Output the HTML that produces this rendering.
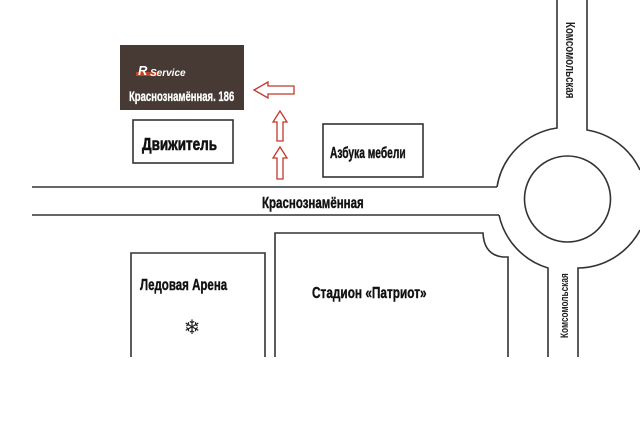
<!DOCTYPE html>
<html><head><meta charset="utf-8"><style>
body{margin:0;background:#fff;}
svg text{font-family:"Liberation Sans","DejaVu Sans",sans-serif;font-weight:bold;}
</style></head><body>
<svg width="640" height="435" viewBox="0 0 640 435" xmlns="http://www.w3.org/2000/svg">
<g fill="none" stroke="#333" stroke-width="1.6">
<path d="M32 187 H497"/>
<path d="M32 215 H499"/>
<path d="M557 0 V128 A71 71 0 0 0 497 187"/>
<path d="M587 0 V130 A71 71 0 0 1 640 170"/>
<path d="M499 215 A71 71 0 0 0 548 268 V357"/>
<path d="M578 357 V268 A71 71 0 0 0 640 230"/>
<circle cx="567.5" cy="199" r="43"/>
<path d="M275 357 V233 H483 Q484 255 503 257 H508 V357"/>
<path d="M131 357 V253 H265 V357"/>
<rect x="133" y="120" width="100" height="43"/>
<rect x="323" y="124" width="100" height="53"/>
</g>
<rect x="120" y="45" width="124" height="65" fill="#473a35"/>
<rect x="136" y="72" width="22" height="4" fill="#c8401e"/>
<text x="138" y="75" fill="#fff" font-size="13" font-style="italic">R</text>
<text x="150" y="76" fill="#fff" font-size="10" font-style="italic">Service</text>
<text x="129" y="101" fill="#fff" stroke="#fff" stroke-width="0.3" font-size="14" transform="translate(129 0) scale(0.68 1) translate(-129 0)">Краснознамённая. 186</text>
<text x="142" y="150" fill="#111" stroke="#111" stroke-width="0.6" font-size="18" transform="translate(142 0) scale(0.75 1) translate(-142 0)">Движитель</text>
<text x="330" y="158" fill="#111" stroke="#111" stroke-width="0.4" font-size="16" transform="translate(330 0) scale(0.64 1) translate(-330 0)">Азбука мебели</text>
<text x="262" y="208" fill="#111" stroke="#111" stroke-width="0.4" font-size="16" transform="translate(262 0) scale(0.72 1) translate(-262 0)">Краснознамённая</text>
<text x="140" y="290" fill="#111" stroke="#111" stroke-width="0.4" font-size="16" transform="translate(140 0) scale(0.72 1) translate(-140 0)">Ледовая Арена</text>
<text x="312" y="298" fill="#111" stroke="#111" stroke-width="0.4" font-size="16" transform="translate(312 0) scale(0.74 1) translate(-312 0)">Стадион «Патриот»</text>
<text x="192" y="334" fill="#222" font-size="20" text-anchor="middle">❄</text>
<text transform="translate(566 22) rotate(90) scale(0.75 1)" fill="#222" font-size="13">Комсомольская</text>
<text transform="translate(568 338) rotate(-90) scale(0.75 1)" fill="#222" font-size="11">Комсомольская</text>
<g fill="#fff" stroke="#c0392b" stroke-width="1.3">
<path d="M254 90 L268 82 V86 H294 V94 H268 V98 Z"/>
<path d="M280 111 L287 122 H283 V141 H277 V122 H273 Z"/>
<path d="M280 147 L287 158 H283 V179 H277 V158 H273 Z"/>
</g>
</svg>
</body></html>
